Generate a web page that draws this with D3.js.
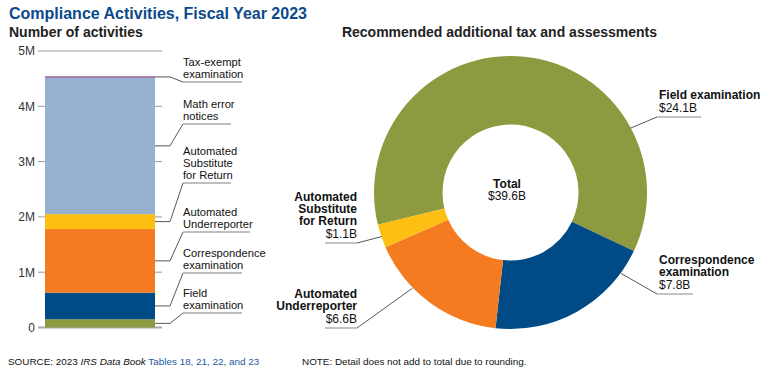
<!DOCTYPE html>
<html><head><meta charset="utf-8">
<script src="https://cdn.jsdelivr.net/npm/d3@7"></script>
<style>body{margin:0;background:#fff}svg{display:block;font-family:"Liberation Sans",Arial,sans-serif}</style>
</head><body><svg id="c" width="770" height="370"></svg>
<script>
// ---- data ----
const barCategories = ["Field examination","Correspondence examination","Automated Underreporter","Automated Substitute for Return","Math error notices","Tax-exempt examination"];
const barValues = [150000, 480000, 1150000, 270000, 2470000, 20000];
const barLabelLines = [["Field","examination"],["Correspondence","examination"],["Automated","Underreporter"],["Automated","Substitute","for Return"],["Math error","notices"],["Tax-exempt","examination"]];
const yTickValues = [0, 1000000, 2000000, 3000000, 4000000, 5000000];
const yTickLabels = ["0","1M","2M","3M","4M","5M"];
const donutCategories = ["Field examination","Correspondence examination","Automated Underreporter","Automated Substitute for Return"];
const donutValues = [24.1, 7.8, 6.6, 1.1];
const donutValueLabels = ["$24.1B","$7.8B","$6.6B","$1.1B"];
const donutTotalLabel = "$39.6B";

// ---- styles / layout ----
const colors = {
  "Field examination":"#8e9a3f",
  "Correspondence examination":"#004a86",
  "Automated Underreporter":"#f47b20",
  "Automated Substitute for Return":"#fcbf12",
  "Math error notices":"#96b2d0",
  "Tax-exempt examination":"#7b2a6e"
};
const svg = d3.select("#c");

// titles
svg.append("text").attr("x",9).attr("y",19).attr("font-size",16).attr("font-weight","bold").attr("fill","#0b4a8a").text("Compliance Activities, Fiscal Year 2023");
svg.append("text").attr("x",9).attr("y",37).attr("font-size",14).attr("font-weight","bold").attr("fill","#222").text("Number of activities");
svg.append("text").attr("x",499.5).attr("y",37).attr("font-size",14).attr("font-weight","bold").attr("fill","#222").attr("text-anchor","middle").text("Recommended additional tax and assessments");

// ---- bar ----
const y = d3.scaleLinear().domain([0,5000000]).range([327.5,51]);
const barX0 = 45, barX1 = 155;
const g = svg.append("g");
// gridlines
g.selectAll("line.grid").data(yTickValues).join("line")
  .attr("x1",38).attr("x2",162).attr("y1",d=>y(d)).attr("y2",d=>y(d))
  .attr("stroke",d=>d===0?"#aaa":"#999").attr("stroke-width",d=>d===0?2:1);
const yAxis = d3.axisLeft(y).tickValues(yTickValues).tickFormat((d,i)=>yTickLabels[i]).tickSize(0).tickPadding(0);
const ax = g.append("g").attr("transform","translate(35,0)").call(yAxis);
ax.select(".domain").remove();
ax.selectAll("text").attr("font-size",12).attr("fill","#333").attr("font-family","Liberation Sans, Arial, sans-serif");

const stackData = [];
let cum = 0;
barValues.forEach((v,i)=>{stackData.push({cat:barCategories[i],y0:cum,y1:cum+v,lines:barLabelLines[i]});cum+=v;});
g.selectAll("rect.seg").data(stackData).join("rect")
  .attr("x",barX0).attr("width",barX1-barX0)
  .attr("y",d=>y(d.y1)).attr("height",d=>y(d.y0)-y(d.y1))
  .attr("fill",d=>colors[d.cat]);

// bar annotations (underline y and end x)
const barLabelLayout = [
  {uy:313, ux:242},
  {uy:273, ux:242},
  {uy:232, ux:250},
  {uy:183, ux:231},
  {uy:124, ux:231},
  {uy:82, ux:242}
];
stackData.forEach((d,i)=>{
  const L = barLabelLayout[i];
  const my = i===stackData.length-1 ? y(d.y1)+0.5 : (y(d.y0)+y(d.y1))/2;
  g.append("path").attr("d",`M${barX1},${my}H170L183,${L.uy}`).attr("fill","none").attr("stroke","#444").attr("stroke-width",0.9);
  g.append("line").attr("x1",183).attr("x2",L.ux).attr("y1",L.uy).attr("y2",L.uy).attr("stroke","#aaa").attr("stroke-width",1.5);
  const n = d.lines.length;
  d.lines.forEach((t,j)=>{
    g.append("text").attr("x",183).attr("y",L.uy-4-(n-1-j)*12).attr("font-size",11.2).attr("fill","#111").text(t);
  });
});

// ---- donut ----
const cx = 510.5, cy = 192.5, rOuter = 136.5, rInner = 68;
const deg = Math.PI/180;
const pie = d3.pie().sort(null).startAngle(-103.7*deg).endAngle(-103.7*deg+2*Math.PI);
const arcs = pie(donutValues);
const arc = d3.arc().innerRadius(rInner).outerRadius(rOuter);
const dg = svg.append("g").attr("transform",`translate(${cx},${cy})`);
dg.selectAll("path").data(arcs).join("path").attr("d",arc).attr("fill",(d,i)=>colors[donutCategories[i]]);
svg.append("text").attr("x",507).attr("y",188).attr("text-anchor","middle").attr("font-size",12).attr("font-weight","bold").attr("fill","#111").text("Total");
svg.append("text").attr("x",507).attr("y",200).attr("text-anchor","middle").attr("font-size",12).attr("fill","#111").text(donutTotalLabel);

const donutLabelLayout = [
  {ang:61.8, r:136, ex:657, ey:117, ux0:657, ux1:701, anchor:"start", tx:659, lines:["Field examination"]},
  {ang:126.2, r:137, ex:657, ey:294, ux0:657, ux1:693, anchor:"start", tx:659, lines:["Correspondence","examination"]},
  {ang:225.7, r:137, ex:357, ey:328, ux0:325, ux1:357, anchor:"end", tx:357, lines:["Automated","Underreporter"]},
  {ang:251.1, r:136, ex:357, ey:243, ux0:325, ux1:357, anchor:"end", tx:357, lines:["Automated","Substitute","for Return"]}
];
donutLabelLayout.forEach((L,i)=>{
  const a = L.ang*deg;
  const sx = cx + L.r*Math.sin(a), sy = cy - L.r*Math.cos(a);
  svg.append("line").attr("x1",sx).attr("y1",sy).attr("x2",L.ex).attr("y2",L.ey).attr("stroke","#444").attr("stroke-width",0.9);
  svg.append("line").attr("x1",L.ux0).attr("x2",L.ux1).attr("y1",L.ey).attr("y2",L.ey).attr("stroke","#888").attr("stroke-width",1);
  const all = L.lines.concat([donutValueLabels[i]]);
  const n = all.length;
  all.forEach((t,j)=>{
    svg.append("text").attr("x",L.tx).attr("y",L.ey-5.5-(n-1-j)*12.3).attr("text-anchor",L.anchor)
      .attr("font-size",12).attr("font-weight",j<n-1?"bold":"normal").attr("fill","#111").text(t);
  });
});

// ---- footer ----
const f = svg.append("text").attr("x",8).attr("y",365).attr("font-size",9.9).attr("fill","#111");
f.append("tspan").text("SOURCE: 2023 ");
f.append("tspan").attr("font-style","italic").text("IRS Data Book");
f.append("tspan").attr("fill","#1d5aa0").text(" Tables 18, 21, 22, and 23");
svg.append("text").attr("x",302).attr("y",365).attr("font-size",9.9).attr("fill","#111").text("NOTE: Detail does not add to total due to rounding.");
</script></body></html>
